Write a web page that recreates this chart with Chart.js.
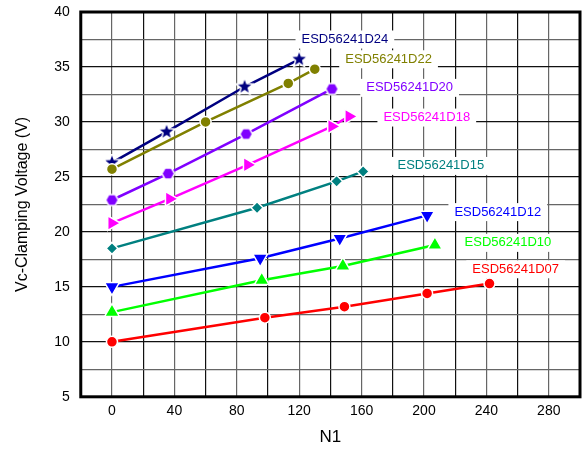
<!DOCTYPE html>
<html>
<head>
<meta charset="utf-8">
<script src="https://cdn.jsdelivr.net/npm/chart.js@4.4.0/dist/chart.umd.min.js"></script>
<style>
  body { margin: 0; background: #fff; }
  #wrap { width: 585px; height: 454px; }
</style>
</head>
<body>
<div id="wrap"><canvas id="myChart" width="585" height="454"></canvas></div>
<script>
// N1 (x) and Vc-clamping (y) per part
const n1_D24 = [0, 35, 85, 120]
const vc_D24 = [26.3, 29.1, 33.2, 35.7]
const n1_D22 = [0, 60, 113, 130]
const vc_D22 = [25.7, 30.0, 33.5, 34.8]
const n1_D20 = [0, 36, 86, 141]
const vc_D20 = [22.9, 25.3, 28.9, 33.0]
const n1_D18 = [0, 37, 87, 141, 152]
const vc_D18 = [20.8, 23.0, 26.1, 29.6, 30.5]
const n1_D15 = [0, 93, 144, 161]
const vc_D15 = [18.5, 22.2, 24.6, 25.5]
const n1_D12 = [0, 95, 146, 202]
const vc_D12 = [15.0, 17.6, 19.4, 21.5]
const n1_D10 = [0, 96, 148, 207]
const vc_D10 = [12.7, 15.6, 16.9, 18.8]
const n1_D07 = [0, 98, 149, 202, 242]
const vc_D07 = [10.0, 12.2, 13.2, 14.4, 15.3]

const xTicks = [0, 40, 80, 120, 160, 200, 240, 280]
const yTicks = [5, 10, 15, 20, 25, 30, 35, 40]

function pts(xs, ys) { return xs.map((x, i) => ({x: x, y: ys[i]})) }

// filled marker shapes Chart.js doesn't have
function marker(shape, color, r) {
    const c = document.createElement('canvas')
    const s = Math.ceil(r * 2 + 4)
    c.width = s; c.height = s
    const g = c.getContext('2d')
    const cx = s / 2, cy = s / 2
    g.beginPath()
    if (shape == 'star') {
        for (let i = 0; i < 10; i++) {
            const rr = i % 2 ? r * 0.42 : r
            const a = -Math.PI / 2 + i * Math.PI / 5
            g.lineTo(cx + rr * Math.cos(a), cy + rr * Math.sin(a))
        }
    } else {
        for (let i = 0; i < 6; i++) {
            const a = i * Math.PI / 3
            g.lineTo(cx + r * Math.cos(a), cy + r * Math.sin(a))
        }
    }
    g.closePath()
    g.lineWidth = 3
    g.strokeStyle = 'white'
    g.stroke()
    g.fillStyle = color
    g.fill()
    return c
}

let nSeries = 0
function series(label, xs, ys, color, style, radius, rotation) {
    nSeries++
    return {
        label: label,
        data: pts(xs, ys),
        order: 20 - nSeries,   // later series on top
        showLine: true,
        borderColor: color,
        backgroundColor: color,
        borderWidth: 2.5,
        pointStyle: style,
        pointRadius: radius,
        pointRotation: rotation || 0,
        pointBorderColor: 'white',
        pointBorderWidth: 1.5,
        pointBackgroundColor: color,
    }
}

const labelPos = [
    {text: 'ESD56241D24', x: 121.5, y: 37.5, color: '#000080'},
    {text: 'ESD56241D22', x: 149.5, y: 35.7, color: '#808000'},
    {text: 'ESD56241D20', x: 163, y: 33.1, color: '#8000FF'},
    {text: 'ESD56241D18', x: 174, y: 30.4, color: '#FF00FF'},
    {text: 'ESD56241D15', x: 183, y: 26.0, color: '#008080'},
    {text: 'ESD56241D12', x: 219.5, y: 21.8, color: '#0000FF'},
    {text: 'ESD56241D10', x: 226, y: 19.0, color: '#00FF00'},
    {text: 'ESD56241D07', x: 231, y: 16.6, color: '#FF0000'},
]

const frameAndLabels = {
    id: 'frameAndLabels',
    afterDatasetsDraw(chart) {
        const ctx = chart.ctx
        const xs = chart.scales.x, ys = chart.scales.y
        ctx.save()
        ctx.font = '13px "Liberation Sans", Arial, sans-serif'
        ctx.textBaseline = 'middle'
        labelPos.forEach(l => {
            const px = xs.getPixelForValue(l.x), py = ys.getPixelForValue(l.y)
            const w = ctx.measureText(l.text).width
            ctx.fillStyle = 'white'
            ctx.fillRect(px - 6, py - 9, w + 12, 18)
            ctx.fillStyle = l.color
            ctx.fillText(l.text, px, py)
        })
        const a = chart.chartArea
        ctx.lineWidth = 3
        ctx.strokeStyle = '#000'
        ctx.strokeRect(a.left, a.top, a.right - a.left, a.bottom - a.top)
        ctx.restore()
    }
}

const tickFont = {family: '"Liberation Sans", Arial, sans-serif', size: 14}

chart = new Chart(document.getElementById('myChart'), {
    type: 'scatter',
    data: {
        datasets: [
            series('ESD56241D24', n1_D24, vc_D24, '#000080', marker('star', '#000080', 7), 7),
            series('ESD56241D22', n1_D22, vc_D22, '#808000', 'circle', 5.5),
            series('ESD56241D20', n1_D20, vc_D20, '#8000FF', marker('hex', '#8000FF', 5.5), 6),
            series('ESD56241D18', n1_D18, vc_D18, '#FF00FF', 'triangle', 8.5, 90),
            series('ESD56241D15', n1_D15, vc_D15, '#008080', 'rectRot', 6),
            series('ESD56241D12', n1_D12, vc_D12, '#0000FF', 'triangle', 8.5, 180),
            series('ESD56241D10', n1_D10, vc_D10, '#00FF00', 'triangle', 8.5),
            series('ESD56241D07', n1_D07, vc_D07, '#FF0000', 'circle', 5.5),
        ]
    },
    options: {
        responsive: false,
        animation: false,
        layout: {autoPadding: false, padding: {top: 12, right: 5, left: 9, bottom: 2}},
        plugins: {
            legend: {display: false},
            tooltip: {enabled: false},
        },
        scales: {
            x: {
                type: 'linear',
                min: -20, max: 300,
                border: {display: false},
                afterFit: s => { s.paddingRight = 0; s.paddingLeft = 0 },
                grid: {
                    drawTicks: false,
                    lineWidth: 1.2,
                    color: c => (c.tick && c.tick.value % 40 == 0) ? '#666' : '#111',
                },
                ticks: {
                    stepSize: 20,
                    padding: 6,
                    color: '#000',
                    font: tickFont,
                    autoSkip: false,
                    maxRotation: 0,
                    callback: v => xTicks.includes(v) ? v : '',
                },
                title: {display: true, text: 'N1', color: '#000',
                        font: {family: tickFont.family, size: 17}, padding: {top: 2}},
            },
            y: {
                min: 5, max: 40,
                border: {display: false},
                afterFit: s => { s.paddingTop = 0; s.paddingBottom = 0 },
                grid: {
                    drawTicks: false,
                    lineWidth: 1.2,
                    color: c => (c.tick && c.tick.value % 5 == 0) ? '#111' : '#666',
                },
                ticks: {
                    stepSize: 2.5,
                    padding: 11,
                    color: '#000',
                    font: tickFont,
                    autoSkip: false,
                    callback: v => yTicks.includes(v) ? v : '',
                },
                title: {display: true, text: 'Vc-Clamping Voltage (V)', color: '#000',
                        font: {family: tickFont.family, size: 16}, padding: {bottom: 11}},
            },
        },
    },
    plugins: [frameAndLabels],
});
</script>
</body>
</html>
